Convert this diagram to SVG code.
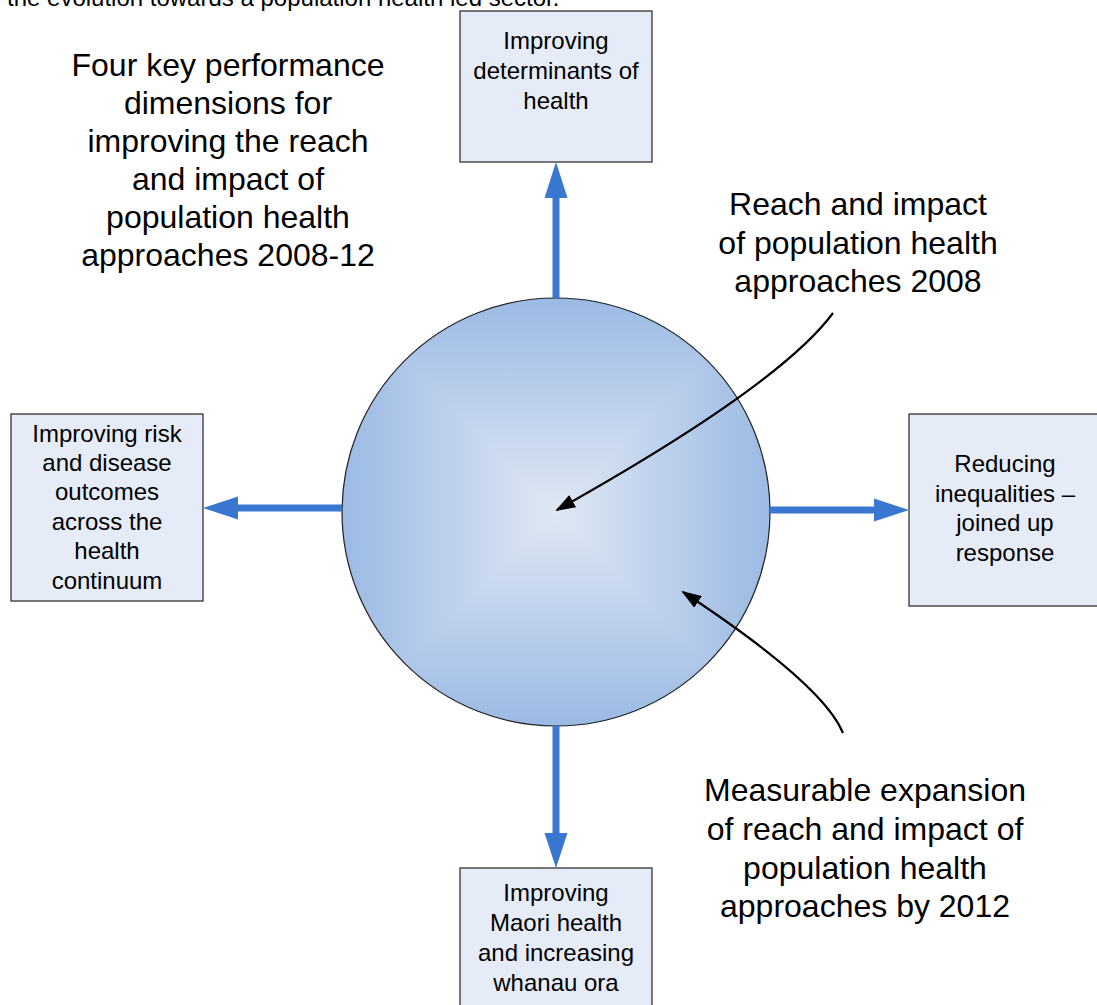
<svg xmlns="http://www.w3.org/2000/svg" width="1097" height="1005" viewBox="0 0 1097 1005">
  <style>
    text { font-family: "Liberation Sans", Arial, sans-serif; fill: #000; text-anchor: middle; }
    .box { fill: #e6ecf7; stroke: #333; stroke-width: 1.3; }
    .boxtxt { font-size: 24px; }
    .big { font-size: 32px; }
    .shaft { stroke: #3a77d0; stroke-width: 7; fill: none; }
    .head { fill: #3a77d0; }
    .callout { stroke: #000; stroke-width: 2.2; fill: none; marker-end: url(#blackhead); }
  </style>
  <defs>
    <marker id="blackhead" viewBox="0 0 20 14" refX="18" refY="7" markerWidth="20" markerHeight="14" markerUnits="userSpaceOnUse" orient="auto">
      <path d="M0,0 L20,7 L0,14 Z" fill="#000"/>
    </marker>
    <clipPath id="disc"><circle cx="556" cy="512" r="214"/></clipPath>
    <!-- square (rectangular) gradient built from four linear ramps -->
    <linearGradient id="gTop" gradientUnits="userSpaceOnUse" x1="0" y1="298" x2="0" y2="512">
      <stop offset="0" stop-color="#9bbae4"/><stop offset="1" stop-color="#dfe7f3"/>
    </linearGradient>
    <linearGradient id="gBottom" gradientUnits="userSpaceOnUse" x1="0" y1="726" x2="0" y2="512">
      <stop offset="0" stop-color="#9bbae4"/><stop offset="1" stop-color="#dfe7f3"/>
    </linearGradient>
    <linearGradient id="gLeft" gradientUnits="userSpaceOnUse" x1="342" y1="0" x2="556" y2="0">
      <stop offset="0" stop-color="#9bbae4"/><stop offset="1" stop-color="#dfe7f3"/>
    </linearGradient>
    <linearGradient id="gRight" gradientUnits="userSpaceOnUse" x1="770" y1="0" x2="556" y2="0">
      <stop offset="0" stop-color="#9bbae4"/><stop offset="1" stop-color="#dfe7f3"/>
    </linearGradient>
    <radialGradient id="gBase" gradientUnits="userSpaceOnUse" cx="556" cy="512" r="214">
      <stop offset="0" stop-color="#dfe7f3"/><stop offset="1" stop-color="#a6c1e7"/>
    </radialGradient>
  </defs>

  <rect width="1097" height="1005" fill="#fff"/>

  <!-- running text cut at the page top -->
  <text x="7" y="6" style="font-size:24px;text-anchor:start">the evolution towards a population health led sector.</text>

  <!-- title -->
  <g id="title">
    <text class="big" x="228" y="76">Four key performance</text>
    <text class="big" x="228" y="114">dimensions for</text>
    <text class="big" x="228" y="152">improving the reach</text>
    <text class="big" x="228" y="190">and impact of</text>
    <text class="big" x="228" y="228">population health</text>
    <text class="big" x="228" y="266">approaches 2008-12</text>
  </g>

  <!-- central disc -->
  <g id="disc-node">
    <g clip-path="url(#disc)">
      <rect x="342" y="298" width="428" height="428" fill="url(#gBase)"/>
      <polygon points="340,296 772,296 556,512" fill="url(#gTop)"/>
      <polygon points="340,728 772,728 556,512" fill="url(#gBottom)"/>
      <polygon points="340,296 340,728 556,512" fill="url(#gLeft)"/>
      <polygon points="772,296 772,728 556,512" fill="url(#gRight)"/>
    </g>
    <circle cx="556" cy="512" r="214" fill="none" stroke="#222" stroke-width="1.2"/>
  </g>

  <!-- outcome boxes -->
  <g id="box-top">
    <rect class="box" x="460" y="11" width="192" height="151"/>
    <text class="boxtxt" x="556" y="49">Improving</text>
    <text class="boxtxt" x="556" y="79">determinants of</text>
    <text class="boxtxt" x="556" y="109">health</text>
  </g>
  <g id="box-left">
    <rect class="box" x="11" y="414" width="192" height="187"/>
    <text class="boxtxt" x="107" y="442">Improving risk</text>
    <text class="boxtxt" x="107" y="471">and disease</text>
    <text class="boxtxt" x="107" y="500">outcomes</text>
    <text class="boxtxt" x="107" y="530">across the</text>
    <text class="boxtxt" x="107" y="559">health</text>
    <text class="boxtxt" x="107" y="589">continuum</text>
  </g>
  <g id="box-right">
    <rect class="box" x="909" y="414" width="195" height="192"/>
    <text class="boxtxt" x="1005" y="472">Reducing</text>
    <text class="boxtxt" x="1005" y="502">inequalities –</text>
    <text class="boxtxt" x="1005" y="531">joined up</text>
    <text class="boxtxt" x="1005" y="561">response</text>
  </g>
  <g id="box-bottom">
    <rect class="box" x="460" y="868" width="192" height="150"/>
    <text class="boxtxt" x="556" y="901">Improving</text>
    <text class="boxtxt" x="556" y="931">Maori health</text>
    <text class="boxtxt" x="556" y="961">and increasing</text>
    <text class="boxtxt" x="556" y="991">whanau ora</text>
  </g>

  <!-- annotations -->
  <g id="note-2008">
    <text class="big" x="858" y="215">Reach and impact</text>
    <text class="big" x="858" y="254">of population health</text>
    <text class="big" x="858" y="292">approaches 2008</text>
  </g>
  <g id="note-2012">
    <text class="big" x="865" y="801">Measurable expansion</text>
    <text class="big" x="865" y="840">of reach and impact of</text>
    <text class="big" x="865" y="879">population health</text>
    <text class="big" x="865" y="917">approaches by 2012</text>
  </g>

  <!-- connectors -->
  <g id="connectors">
    <line class="shaft" x1="556" y1="298" x2="556" y2="196"/>
    <polygon class="head" points="556,162 544.5,198 567.5,198"/>
    <line class="shaft" x1="342" y1="508" x2="236" y2="508"/>
    <polygon class="head" points="203,508 238,496.5 238,519.5"/>
    <line class="shaft" x1="770" y1="510" x2="876" y2="510"/>
    <polygon class="head" points="909,510 874,498.5 874,521.5"/>
    <line class="shaft" x1="556" y1="726" x2="556" y2="835"/>
    <polygon class="head" points="556,868 544.5,833 567.5,833"/>
    <path class="callout" d="M833,313 Q780,385 557,510"/>
    <path class="callout" d="M843,733 Q823,684 683,592"/>
  </g>
</svg>
